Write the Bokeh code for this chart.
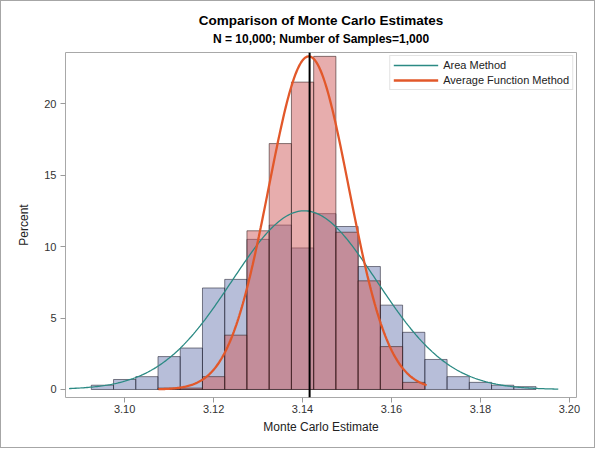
import numpy as np
from bokeh.plotting import figure
from bokeh.models import (Range1d, Title, Span, Legend, LegendItem,
                          FixedTicker, NumeralTickFormatter)
from bokeh.embed import file_html
from bokeh.resources import INLINE

# ---- data ----
bin_width = 0.005
area_mid = [3.095, 3.100, 3.105, 3.110, 3.115, 3.120, 3.125, 3.130, 3.135, 3.140,
            3.145, 3.150, 3.155, 3.160, 3.165, 3.170, 3.175, 3.180, 3.185, 3.190]
area_pct = [0.3, 0.7, 0.9, 2.3, 2.9, 7.1, 7.7, 10.5, 11.5, 9.9,
            12.3, 11.4, 8.6, 5.9, 4.0, 2.1, 0.9, 0.5, 0.3, 0.2]
avg_mid = [3.110, 3.115, 3.120, 3.125, 3.130, 3.135, 3.140, 3.145, 3.150, 3.155,
           3.160, 3.165]
avg_pct = [0.1, 0.1, 0.9, 3.8, 11.1, 17.2, 21.5, 23.3, 11.0, 7.6, 3.0, 0.5]

# fitted normal density curves (parameters)
area_mu, area_sigma, area_peak = 3.1404, 0.0163, 12.5
area_lo, area_hi = 3.0875, 3.1975
avg_mu, avg_sigma, avg_peak = 3.1414, 0.0090, 23.3
avg_lo, avg_hi = 3.1076, 3.1679

true_value = 3.14159
x_ticks = [3.10, 3.12, 3.14, 3.16, 3.18, 3.20]
y_ticks = [0, 5, 10, 15, 20]

title_text = "Comparison of Monte Carlo Estimates"
subtitle_text = "N = 10,000; Number of Samples=1,000"

FONT = "Liberation Sans"

p = figure(width=595, height=448, output_backend="svg", toolbar_location=None,
           title=None,
           x_range=Range1d(3.0867, 3.2016), y_range=Range1d(-0.56, 23.57),
           min_border_left=64, min_border_right=20, min_border_top=51,
           min_border_bottom=52)
p.styles = {"border": "1px solid #A6A6A6"}

p.add_layout(Title(text=subtitle_text, align="center", text_font=FONT,
                   text_font_size="12px", text_font_style="bold",
                   text_color="#000000", standoff=14), "above")
p.add_layout(Title(text=title_text, align="center", text_font=FONT,
                   text_font_size="13.5px", text_font_style="bold",
                   text_color="#000000", standoff=-11), "above")

p.xgrid.visible = False
p.ygrid.visible = False
p.outline_line_color = "#A8A8A8"
p.background_fill_color = "white"
p.border_fill_color = "white"

# bars
p.vbar(x=area_mid, top=area_pct, bottom=0, width=bin_width,
       fill_color="#6F7EB3", fill_alpha=0.5, line_color="#1A1A2A", line_alpha=0.55,
       line_width=1)
p.vbar(x=avg_mid, top=avg_pct, bottom=0, width=bin_width,
       fill_color="#D05B5B", fill_alpha=0.5, line_color="#2A1A1A", line_alpha=0.55,
       line_width=1)

# density curves
xa = np.linspace(area_lo, area_hi, 300)
ya = area_peak * np.exp(-0.5 * ((xa - area_mu) / area_sigma) ** 2)
xb = np.linspace(avg_lo, avg_hi, 300)
yb = avg_peak * np.exp(-0.5 * ((xb - avg_mu) / avg_sigma) ** 2)
r_area = p.line(xa, ya, line_color="#2B8A84", line_width=1.3)
r_avg = p.line(xb, yb, line_color="#E2582A", line_width=2.3)

p.add_layout(Span(location=true_value, dimension="height", line_color="black",
                  line_width=2))

legend = Legend(items=[LegendItem(label="Area Method", renderers=[r_area]),
                       LegendItem(label="Average Function Method", renderers=[r_avg])],
                location="top_right", margin=3, padding=3, spacing=3,
                glyph_width=45, glyph_height=12, label_height=12,
                label_standoff=5, label_text_font=FONT, label_text_font_size="11px",
                label_text_color="#222222",
                border_line_color="#C8C8C8", background_fill_color="white",
                background_fill_alpha=1.0)
p.add_layout(legend)

# axes
p.xaxis.ticker = FixedTicker(ticks=x_ticks)
p.xaxis.formatter = NumeralTickFormatter(format="0.00")
p.yaxis.ticker = FixedTicker(ticks=y_ticks)
p.xaxis.axis_label = "Monte Carlo Estimate"
p.yaxis.axis_label = "Percent"
for ax in (p.xaxis, p.yaxis):
    ax.axis_line_color = None
    ax.major_tick_line_color = "#9A9A9A"
    ax.major_tick_out = 5
    ax.major_tick_in = 0
    ax.minor_tick_line_color = None
    ax.major_label_text_font = FONT
    ax.major_label_text_font_size = "11px"
    ax.major_label_text_color = "#333333"
    ax.axis_label_text_font = FONT
    ax.axis_label_text_font_size = "12px"
    ax.axis_label_text_font_style = "normal"
    ax.axis_label_text_color = "#222222"
p.xaxis.major_label_standoff = 2
p.xaxis.axis_label_standoff = 4
p.yaxis.major_label_standoff = 4
p.yaxis.axis_label_standoff = 10

open("out.html", "w").write(file_html(p, INLINE))
